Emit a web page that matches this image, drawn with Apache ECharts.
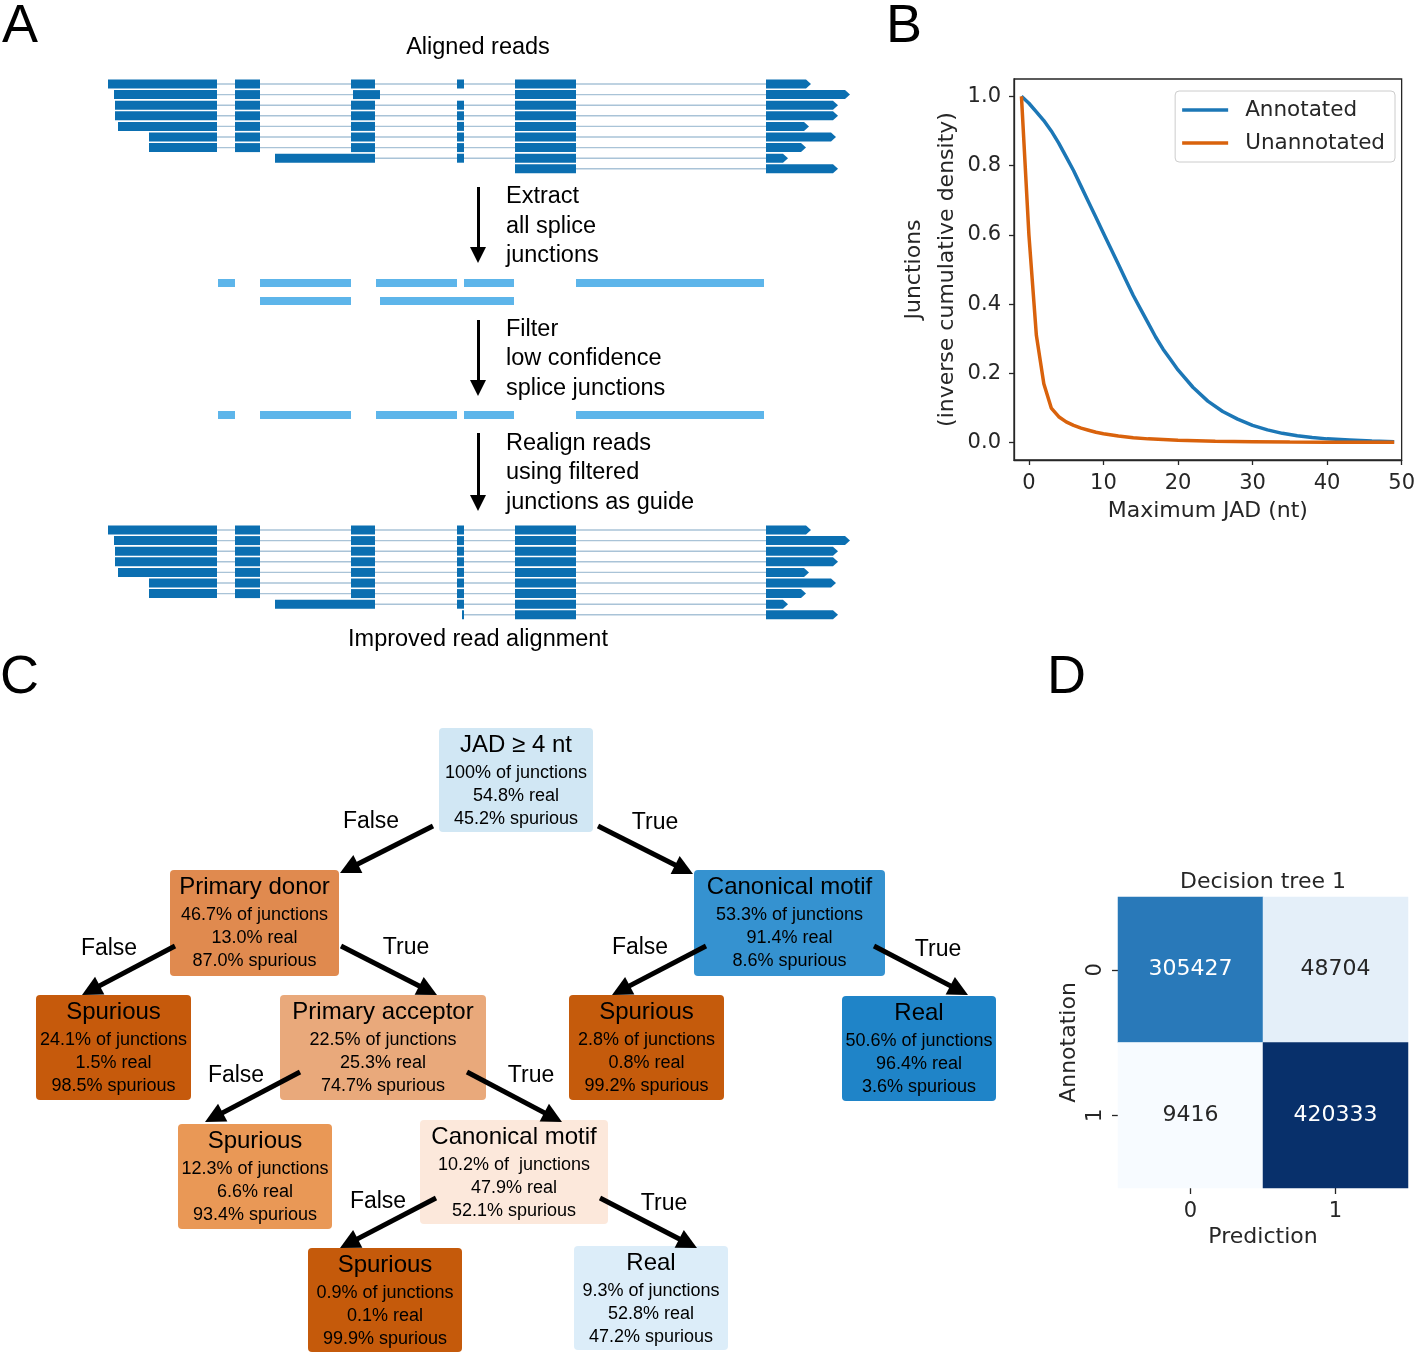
<!DOCTYPE html>
<html><head><meta charset="utf-8">
<script src="https://cdn.jsdelivr.net/npm/echarts@6/dist/echarts.min.js"></script>
<style>html,body{margin:0;padding:0;background:#fff}#c{width:1418px;height:1354px}</style>
</head><body><div id="c"></div>
<script>
// ================= DATA =================
// Panel A: aligned blocks of each read (genomic positions, start/end)
const alignedReads = [
  [[108,217],[235,260],[351,375],[457,464],[515,576],[766,811]],
  [[114,217],[235,260],[353,380],[515,576],[766,850]],
  [[115,217],[235,260],[351,375],[457,464],[515,576],[766,838]],
  [[115,217],[235,260],[351,375],[457,464],[515,576],[766,838]],
  [[118,217],[235,260],[351,375],[457,464],[515,576],[766,809]],
  [[149,217],[235,260],[351,375],[457,464],[515,576],[766,836]],
  [[149,217],[235,260],[351,375],[457,464],[515,576],[766,806]],
  [[275,375],[457,464],[515,576],[766,788]],
  [[515,576],[766,838]]
];
const improvedReads = [
  [[108,217],[235,260],[351,375],[457,464],[515,576],[766,811]],
  [[114,217],[235,260],[351,375],[457,464],[515,576],[766,850]],
  [[115,217],[235,260],[351,375],[457,464],[515,576],[766,838]],
  [[115,217],[235,260],[351,375],[457,464],[515,576],[766,838]],
  [[118,217],[235,260],[351,375],[457,464],[515,576],[766,809]],
  [[149,217],[235,260],[351,375],[457,464],[515,576],[766,836]],
  [[149,217],[235,260],[351,375],[457,464],[515,576],[766,806]],
  [[275,375],[457,464],[515,576],[766,788]],
  [[462,464],[515,576],[766,838]]
];
const extractedJunctions = [
  [[218,235],[260,351],[376,457],[464,514],[576,764]],
  [[260,351],[380,514]]
];
const filteredJunctions = [
  [[218,235],[260,351],[376,457],[464,514],[576,764]]
];
const stepTexts = [
  ['Extract','all splice','junctions'],
  ['Filter','low confidence','splice junctions'],
  ['Realign reads','using filtered','junctions as guide']
];

// Panel B: inverse cumulative density vs maximum JAD
const jadAnnotated = [-1,0,1,2,3,4,5,6,7,8,9,10,11,12,13,14,15,16,17,18,19,20,22,24,26,28,30,32,34,36,38,40,43,46,49];
const densAnnotated = [1.00,0.98,0.955,0.93,0.90,0.865,0.825,0.785,0.74,0.695,0.65,0.605,0.56,0.515,0.47,0.425,0.385,0.345,0.305,0.27,0.24,0.21,0.16,0.12,0.09,0.068,0.05,0.037,0.027,0.02,0.015,0.011,0.008,0.005,0.003];
const jadUnannotated = [-1,0,1,2,3,4,5,6,7,8,9,10,12,14,16,18,20,25,30,35,40,45,49];
const densUnannotated = [1.00,0.60,0.31,0.17,0.10,0.075,0.06,0.05,0.042,0.036,0.03,0.026,0.019,0.014,0.011,0.009,0.007,0.004,0.003,0.002,0.0015,0.001,0.001];
const bXTicks = [0,10,20,30,40,50];
const bYTicks = [0,0.2,0.4,0.6,0.8,1.0];

// Panel C: decision tree nodes
const nodeTitles = ['JAD \u2265 4 nt','Primary donor','Canonical motif','Spurious','Primary acceptor','Spurious','Real','Spurious','Canonical motif','Spurious','Real'];
const nodeJunctions = ['100% of junctions','46.7% of junctions','53.3% of junctions','24.1% of junctions','22.5% of junctions','2.8% of junctions','50.6% of junctions','12.3% of junctions','10.2% of  junctions','0.9% of junctions','9.3% of junctions'];
const nodeReal = ['54.8% real','13.0% real','91.4% real','1.5% real','25.3% real','0.8% real','96.4% real','6.6% real','47.9% real','0.1% real','52.8% real'];
const nodeSpurious = ['45.2% spurious','87.0% spurious','8.6% spurious','98.5% spurious','74.7% spurious','99.2% spurious','3.6% spurious','93.4% spurious','52.1% spurious','99.9% spurious','47.2% spurious'];
const edgeFrom = [0,0,1,1,2,2,4,4,8,8];
const edgeTo   = [1,2,3,4,5,6,7,8,9,10];
const edgeLabels = ['False','True','False','True','False','True','False','True','False','True'];

// Panel D: confusion matrix
const predCats = ['0','1'];
const annotCats = ['0','1'];
const confusion = [[305427,48704],[9416,420333]]; // rows: annotation, cols: prediction

// ================= LAYOUT / STYLE =================
const FA = 'Liberation Sans, Arial, Helvetica, sans-serif';
const FD = 'DejaVu Sans, sans-serif';
const TXT = '#262626';
const A_LAYOUT = {readTop:[84,530], rowGap:10.6, barH:9, juncY:[283,301,415], juncH:8, arrowX:478,
  arrows:[[187,263],[320,396],[433,511]], textX:506, textY:[[197,227,256],[330,359,389],[444,473,503]]};
const READ_BLOCKS = [alignedReads, improvedReads];
const JUNC_ROWS = [extractedJunctions[0], extractedJunctions[1], filteredJunctions[0]];
const TREE_BOX = [[439,728,593,832],[170,870,339,976],[694,870,885,976],[36,995,191,1100],[280,995,486,1100],[569,995,724,1100],[842,996,996,1101],[178,1124,332,1229],[420,1120,608,1224],[308,1248,462,1352],[574,1246,728,1350]];
const TREE_FILL = ['#d1e7f4','#e08a4f','#3592d0','#c65a0c','#e9a97b','#c55b0c','#1f84c8','#e99856','#fce8db','#c55a0b','#dcedf9'];
const EDGE_PTS = [[433,826,340,873],[598,826,693,874],[175,946,82,995],[341,946,437,995],[706,946,612,995],[874,946,968,995],[300,1072,205,1122],[467,1072,562,1122],[436,1198,340,1248],[600,1198,697,1248]];
const EDGE_LABEL_POS = [[371,822],[655,823],[109,949],[406,948],[640,948],[938,950],[236,1076],[531,1076],[378,1202],[664,1204]];

function textEl(x, y, text, size, family, align) {
  return {type:'text', x:x, y:y, style:{text:text, fill:'#000', fontSize:size, fontFamily:family,
    align:align||'center', verticalAlign:'middle', textAlign:align||'center', textVerticalAlign:'middle'}};
}
function shortenTo(x1,y1,x2,y2,d){
  const dx=x2-x1, dy=y2-y1, L=Math.sqrt(dx*dx+dy*dy);
  return [x2-dx/L*d, y2-dy/L*d];
}

const chart = echarts.init(document.getElementById('c'), null, {renderer:'canvas'});

// Graphic texts
const graphics = [
  textEl(2,27,'A',54,FA,'left'),
  textEl(886,27,'B',54,FA,'left'),
  textEl(0,678,'C',54,FA,'left'),
  textEl(1047,678,'D',54,FA,'left'),
  textEl(478,48,'Aligned reads',23.5,FA),
  textEl(478,640,'Improved read alignment',23.5,FA)
];
stepTexts.forEach((lines, i) => lines.forEach((t, k) => graphics.push(textEl(A_LAYOUT.textX, A_LAYOUT.textY[i][k], t, 23.5, FA, 'left'))));
graphics.push({type:'text', x:1263, y:882, style:{text:'Decision tree 1', fill:TXT, fontSize:22, fontFamily:FD, align:'center', verticalAlign:'middle', textAlign:'center', textVerticalAlign:'middle'}});

// heatmap data
const hmData = [];
confusion.forEach((row, r) => row.forEach((v, c) => hmData.push([c, r, v])));
const hmMin = Math.min(...hmData.map(d=>d[2])), hmMax = Math.max(...hmData.map(d=>d[2]));
const blues = ['#f7fbff','#deebf7','#c6dbef','#9ecae1','#6baed6','#4292c6','#2171b5','#08519c','#08306b'];

const option = {
  animation:false,
  backgroundColor:'#fff',
  graphic: graphics,
  grid:[
    {left:0, top:0, width:1418, height:1354, show:false},
    {left:1014, top:79, width:392, height:381, show:true, borderColor:TXT, borderWidth:1.3, backgroundColor:'transparent'},
    {left:1118, top:897, width:290, height:291, show:false}
  ],
  xAxis:[
    {gridIndex:0, type:'value', min:0, max:1418, show:false},
    {gridIndex:1, type:'value', min:-2, max:50,
      axisLine:{show:true, onZero:false, lineStyle:{color:TXT, width:1.3}},
      axisTick:{show:true, customValues:bXTicks, length:5, lineStyle:{color:TXT, width:1.3}},
      axisLabel:{customValues:bXTicks, fontSize:21, fontFamily:FD, color:TXT, margin:13},
      splitLine:{show:false},
      name:'Maximum JAD (nt)', nameLocation:'middle', nameGap:40, nameTextStyle:{fontSize:22, fontFamily:FD, color:TXT}},
    {gridIndex:2, type:'category', data:predCats, position:'bottom',
      axisLine:{show:false}, axisTick:{show:true, alignWithLabel:true, length:6, lineStyle:{color:TXT, width:1.3}},
      axisLabel:{fontSize:21, fontFamily:FD, color:TXT, margin:13},
      name:'Prediction', nameLocation:'middle', nameGap:38, nameTextStyle:{fontSize:22, fontFamily:FD, color:TXT}}
  ],
  yAxis:[
    {gridIndex:0, type:'value', min:0, max:1354, inverse:true, show:false},
    {gridIndex:1, type:'value', min:-0.05, max:1.05,
      axisLine:{show:true, onZero:false, lineStyle:{color:TXT, width:1.3}},
      axisTick:{show:true, customValues:bYTicks, length:5, lineStyle:{color:TXT, width:1.3}},
      axisLabel:{customValues:bYTicks, fontSize:21, fontFamily:FD, color:TXT, margin:13, formatter:v=>Number(v).toFixed(1)},
      splitLine:{show:false},
      name:'Junctions\n(inverse cumulative density)', nameLocation:'middle', nameGap:50, nameRotate:90,
      nameTextStyle:{fontSize:22, fontFamily:FD, color:TXT, lineHeight:33, align:'center'}},
    {gridIndex:2, type:'category', data:annotCats, inverse:true,
      axisLine:{show:false}, axisTick:{show:true, alignWithLabel:true, length:6, lineStyle:{color:TXT, width:1.3}},
      axisLabel:{fontSize:21, fontFamily:FD, color:TXT, rotate:90, margin:12},
      name:'Annotation', nameLocation:'middle', nameGap:38, nameRotate:90, nameTextStyle:{fontSize:22, fontFamily:FD, color:TXT}}
  ],
  legend:{data:['Annotated','Unannotated'], orient:'vertical', right:23, top:91, icon:'rect', itemWidth:46, itemHeight:3.5,
    itemGap:11, padding:[8,10,8,7], borderColor:'#cccccc', borderWidth:1, borderRadius:4, backgroundColor:'#fff',
    textStyle:{fontSize:21.5, fontFamily:FD, color:TXT, padding:[0,0,0,12]}},
  visualMap:{show:false, seriesIndex:7, min:hmMin, max:hmMax, inRange:{color:blues}},
  series:[
    // 0: panel A reads
    {type:'custom', xAxisIndex:0, yAxisIndex:0, clip:false, silent:true,
      data: READ_BLOCKS.flatMap((blk,b)=>blk.map((_,r)=>[b,r])),
      renderItem:function(params, api){
        const b = api.value(0), r = api.value(1);
        const read = READ_BLOCKS[b][r];
        const yc = A_LAYOUT.readTop[b] + r*A_LAYOUT.rowGap;
        const h = A_LAYOUT.barH;
        const ch = [];
        const l0 = api.coord([read[0][1], yc]), l1 = api.coord([read[read.length-1][0], yc]);
        ch.push({type:'line', shape:{x1:l0[0],y1:l0[1],x2:l1[0],y2:l1[1]}, style:{stroke:'#a9c3d7', lineWidth:1.4}});
        read.forEach((ex,k)=>{
          const p0 = api.coord([ex[0], yc-h/2]), p1 = api.coord([ex[1], yc+h/2]);
          if (k === read.length-1) {
            const pm = api.coord([ex[1]-5, yc]);
            ch.push({type:'polygon', shape:{points:[[p0[0],p0[1]],[pm[0],p0[1]],[p1[0],(p0[1]+p1[1])/2],[pm[0],p1[1]],[p0[0],p1[1]]]}, style:{fill:'#0b6fb1'}});
          } else {
            ch.push({type:'rect', shape:{x:p0[0], y:p0[1], width:Math.max(p1[0]-p0[0],1.5), height:p1[1]-p0[1]}, style:{fill:'#0b6fb1'}});
          }
        });
        return {type:'group', children:ch};
      }},
    // 1: panel A junctions
    {type:'custom', xAxisIndex:0, yAxisIndex:0, clip:false, silent:true,
      data: JUNC_ROWS.map((_,i)=>[i,0]),
      renderItem:function(params, api){
        const i = api.value(0);
        const yc = A_LAYOUT.juncY[i], h = A_LAYOUT.juncH;
        return {type:'group', children: JUNC_ROWS[i].map(j=>{
          const p0 = api.coord([j[0], yc-h/2]), p1 = api.coord([j[1], yc+h/2]);
          return {type:'rect', shape:{x:p0[0], y:p0[1], width:p1[0]-p0[0], height:p1[1]-p0[1]}, style:{fill:'#5db5ea'}};
        })};
      }},
    // 2: panel A arrows
    {type:'lines', coordinateSystem:'cartesian2d', xAxisIndex:0, yAxisIndex:0, silent:true,
      symbol:['none','triangle'], symbolSize:[14,16],
      lineStyle:{color:'#000', width:3, opacity:1},
      data: A_LAYOUT.arrows.map(a=>({coords:[[A_LAYOUT.arrowX,a[0]],[A_LAYOUT.arrowX,a[1]-8]]}))},
    // 3: tree boxes
    {type:'custom', xAxisIndex:0, yAxisIndex:0, clip:false, silent:true,
      data: nodeTitles.map((_,i)=>[i,0]),
      renderItem:function(params, api){
        const i = api.value(0);
        const bx = TREE_BOX[i];
        const p0 = api.coord([bx[0],bx[1]]), p1 = api.coord([bx[2],bx[3]]);
        const cx = (p0[0]+p1[0])/2, top = p0[1];
        return {type:'group', children:[
          {type:'rect', shape:{x:p0[0], y:p0[1], width:p1[0]-p0[0], height:p1[1]-p0[1], r:4}, style:{fill:TREE_FILL[i]}},
          textEl(cx, top+17, nodeTitles[i], 24, FA),
          textEl(cx, top+45, nodeJunctions[i], 18, FA),
          textEl(cx, top+68, nodeReal[i], 18, FA),
          textEl(cx, top+91, nodeSpurious[i], 18, FA)
        ]};
      }},
    // 4: tree edges
    {type:'lines', coordinateSystem:'cartesian2d', xAxisIndex:0, yAxisIndex:0, silent:true,
      symbol:['none','triangle'], symbolSize:[22,20],
      lineStyle:{color:'#000', width:5, opacity:1},
      data: edgeFrom.map((f,k)=>{
        const e = EDGE_PTS[k];
        return {coords:[[e[0],e[1]], shortenTo(e[0],e[1],e[2],e[3],10)]};
      })},
    // 5: tree edge labels
    {type:'custom', xAxisIndex:0, yAxisIndex:0, clip:false, silent:true,
      data: edgeLabels.map((_,k)=>[k,0]),
      renderItem:function(params, api){
        const k = api.value(0);
        const p = api.coord(EDGE_LABEL_POS[k]);
        return textEl(p[0], p[1], edgeLabels[k], 23, FA);
      }},
    // 6: panel B lines
    {name:'Annotated', type:'line', xAxisIndex:1, yAxisIndex:1, showSymbol:false, symbol:'none',
      lineStyle:{color:'#1c77b6', width:3.5}, itemStyle:{color:'#1c77b6'},
      data: jadAnnotated.map((x,i)=>[x,densAnnotated[i]])},
    // 7: heatmap
    {type:'heatmap', xAxisIndex:2, yAxisIndex:2, data:hmData,
      label:{show:true, fontSize:22, fontFamily:FD,
        formatter:p=>String(p.value[2]), color:'#262626'},
      itemStyle:{borderWidth:0}},
    // 8: panel B orange line
    {name:'Unannotated', type:'line', xAxisIndex:1, yAxisIndex:1, showSymbol:false, symbol:'none',
      lineStyle:{color:'#d9620c', width:3.5}, itemStyle:{color:'#d9620c'},
      data: jadUnannotated.map((x,i)=>[x,densUnannotated[i]])}
  ]
};
// label colour depends on cell darkness
option.series[7].data = hmData.map(d=>{
  const t = (d[2]-hmMin)/(hmMax-hmMin);
  return {value:d, label:{color: t>0.5 ? '#ffffff' : '#262626'}};
});
chart.setOption(option);
</script>
</body></html>
